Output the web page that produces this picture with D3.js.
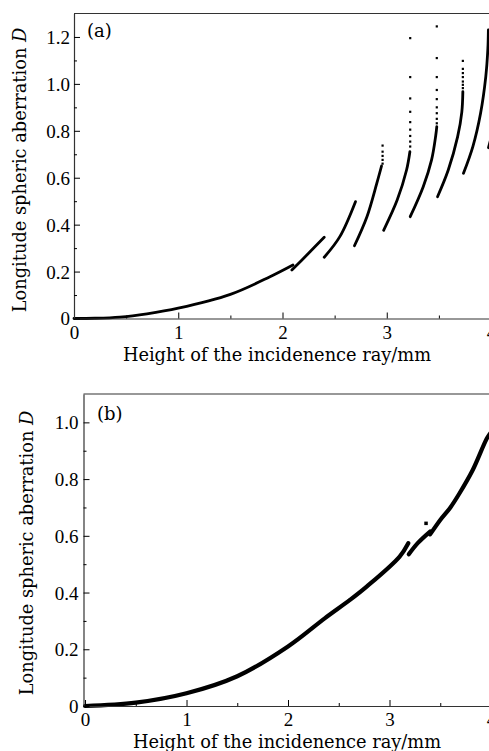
<!DOCTYPE html>
<html>
<head>
<meta charset="utf-8">
<script src="https://cdn.jsdelivr.net/npm/d3@7"></script>
<style>
body { margin: 0; background: #fff; }
svg text { font-family: "DejaVu Serif", serif; }
svg .tick text { font-family: "Liberation Serif", "Times New Roman", serif; font-size: 19px; }
</style>
</head>
<body>
<div id="main"></div>
<script>
// tick values
const xTicks = [0, 1, 2, 3, 4];
const xMinor = [0.5, 1.5, 2.5, 3.5];
const yTicksA = [0, 0.2, 0.4, 0.6, 0.8, 1.0, 1.2];
const yMinorA = [0.1, 0.3, 0.5, 0.7, 0.9, 1.1];
const yTicksB = [0, 0.2, 0.4, 0.6, 0.8, 1.0];
const yMinorB = [0.1, 0.3, 0.5, 0.7, 0.9];

// (a) curve pieces, [height mm, D]
const segA1 = [[0, 0], [0.2, 0.001], [0.44, 0.006], [0.7, 0.02], [1.0, 0.044], [1.5, 0.103], [1.88, 0.178], [2.10, 0.228]];
const segA2 = [[2.09, 0.207], [2.25, 0.278], [2.40, 0.346]];
const segA3 = [[2.40, 0.261], [2.55, 0.349], [2.70, 0.498]];
const segA4 = [[2.69, 0.31], [2.81, 0.434], [2.905, 0.577], [2.95, 0.65]];
const segA5 = [[2.97, 0.376], [3.10, 0.505], [3.19, 0.633], [3.222, 0.711]];
const segA6 = [[3.225, 0.434], [3.35, 0.562], [3.43, 0.676], [3.47, 0.78], [3.48, 0.818]];
const segA7 = [[3.487, 0.519], [3.59, 0.633], [3.68, 0.775], [3.72, 0.88], [3.73, 0.967]];
const segA8 = [[3.736, 0.619], [3.826, 0.733], [3.90, 0.875], [3.95, 1.031], [3.97, 1.15], [3.975, 1.23]];
const segA9 = [[3.976, 0.728], [3.995, 0.76]];

// (a) sparse points at the top of each branch
const dotsA4 = [[2.96, 0.66], [2.96, 0.676], [2.96, 0.693], [2.96, 0.711], [2.96, 0.737]];
const dotsA5 = [[3.225, 0.733], [3.225, 0.754], [3.225, 0.778], [3.225, 0.805], [3.225, 0.837], [3.225, 0.881], [3.225, 0.938], [3.225, 1.029], [3.225, 1.195]];
const dotsA6 = [[3.48, 0.832], [3.48, 0.851], [3.48, 0.875], [3.48, 0.90], [3.48, 0.935], [3.48, 0.974], [3.48, 1.029], [3.48, 1.11], [3.48, 1.245]];
const dotsA7 = [[3.73, 0.982], [3.73, 0.996], [3.73, 1.01], [3.73, 1.029], [3.73, 1.046], [3.73, 1.064], [3.73, 1.098]];

// (b) curve pieces
const segB1 = [[0, 0], [0.5, 0.012], [1.0, 0.045], [1.5, 0.105], [2.0, 0.21], [2.365, 0.31], [2.61, 0.374], [2.775, 0.421], [3.10, 0.527], [3.185, 0.574]];
const segB2 = [[3.19, 0.535], [3.28, 0.575], [3.40, 0.615]];
const segB3 = [[3.40, 0.605], [3.5, 0.656], [3.6, 0.70], [3.69, 0.75], [3.82, 0.832], [3.96, 0.944], [4.0, 0.965]];
const dotsB = [[3.36, 0.644]];

const xLabel = "Height of the incidenence ray/mm";
const yLabel = "Longitude spheric aberration ";

ctx = {
    width: 489,
    height: 751,
};

function drawPanel(svg, p) {
    let x = d3.scaleLinear().domain(p.xDomain).range(p.xRange);
    let y = d3.scaleLinear().domain(p.yDomain).range(p.yRange);
    let g = svg.append("g");

    // data first, axes drawn over
    let line = d3.line()
        .x(d => x(d[0]))
        .y(d => y(d[1]))
        .curve(d3.curveCatmullRom.alpha(0.5));

    g.append("g").selectAll("path")
        .data(p.segs)
        .enter().append("path")
        .attr("d", line)
        .attr("fill", "none")
        .attr("stroke", "#000")
        .attr("stroke-width", p.lineWidth)
        .attr("stroke-linecap", "round");

    g.append("g").selectAll("rect")
        .data(p.dots)
        .enter().append("rect")
        .attr("x", d => x(d[0]) - p.dotSize / 2)
        .attr("y", d => y(d[1]) - p.dotSize / 2)
        .attr("width", p.dotSize)
        .attr("height", p.dotSize)
        .attr("fill", "#000");

    // frame
    g.append("line")
        .attr("x1", p.xRange[0]).attr("x2", p.xRange[1])
        .attr("y1", p.yRange[1]).attr("y2", p.yRange[1])
        .attr("stroke", "#333").attr("stroke-width", 1.2);
    g.append("line")
        .attr("x1", p.xRange[1]).attr("x2", p.xRange[1])
        .attr("y1", p.yRange[0]).attr("y2", p.yRange[1])
        .attr("stroke", "#333").attr("stroke-width", 1.2);

    // bottom axis
    g.append("g")
        .attr("transform", "translate(0," + p.yRange[0] + ")")
        .call(d3.axisBottom(x).tickValues(xTicks).tickSize(-6).tickSizeOuter(0).tickPadding(7).tickFormat(d3.format("d")));
    g.append("g")
        .attr("transform", "translate(0," + p.yRange[0] + ")")
        .call(d3.axisBottom(x).tickValues(xMinor).tickSize(-3).tickSizeOuter(0).tickFormat(""))
        .select(".domain").remove();

    // left axis
    let yAxis = g.append("g")
        .attr("transform", "translate(" + p.xRange[0] + ",0)")
        .call(d3.axisLeft(y).tickValues(p.yTicks).tickSize(-6).tickSizeOuter(0).tickPadding(p.yPad)
            .tickFormat(d => d === 0 ? "0" : d3.format(".1f")(d)));
    g.append("g")
        .attr("transform", "translate(" + p.xRange[0] + ",0)")
        .call(d3.axisLeft(y).tickValues(p.yMinor).tickSize(-3).tickSizeOuter(0).tickFormat(""))
        .select(".domain").remove();

    g.selectAll("g").attr("font-family", null).attr("font-size", null);
    g.selectAll(".domain").attr("stroke", "#333").attr("stroke-width", 1.2);
    g.selectAll(".tick line").attr("stroke", "#000").attr("stroke-width", 1);
    g.selectAll(".tick text").attr("fill", "#000");
    yAxis.selectAll(".tick text").attr("dy", "0.34em");

    // axis titles
    g.append("text")
        .attr("x", p.xLabelPos[0]).attr("y", p.xLabelPos[1])
        .attr("text-anchor", "middle")
        .style("font-size", "17.8px")
        .text(xLabel);

    let yl = g.append("text")
        .attr("transform", "translate(" + p.yLabelPos[0] + "," + p.yLabelPos[1] + ") rotate(-90)")
        .attr("text-anchor", "middle")
        .style("font-size", "17.8px");
    yl.append("tspan").text(yLabel);
    yl.append("tspan").style("font-style", "italic").text("D");

    g.append("text")
        .attr("x", p.tagPos[0]).attr("y", p.tagPos[1])
        .style("font-size", "18px")
        .text(p.tag);
}

function createViz() {
    let svg = d3.select("#main").append("svg")
        .attr("width", ctx.width)
        .attr("height", ctx.height);

    drawPanel(svg, {
        xDomain: [0, 4], xRange: [74, 491],
        yDomain: [0, 1.3], yRange: [318.5, 13.5],
        yTicks: yTicksA, yMinor: yMinorA, yPad: 4,
        segs: [segA1, segA2, segA3, segA4, segA5, segA6, segA7, segA8, segA9],
        dots: [].concat(dotsA4, dotsA5, dotsA6, dotsA7),
        lineWidth: 2.8, dotSize: 2.2,
        xLabelPos: [277, 361], yLabelPos: [26, 170],
        tag: "(a)", tagPos: [87, 37],
    });

    drawPanel(svg, {
        xDomain: [-0.015, 4], xRange: [83.5, 491],
        yDomain: [0, 1.1], yRange: [706, 394],
        yTicks: yTicksB, yMinor: yMinorB, yPad: 5,
        segs: [segB1, segB2, segB3],
        dots: dotsB,
        lineWidth: 4.2, dotSize: 3.5,
        xLabelPos: [287, 748], yLabelPos: [33, 553],
        tag: "(b)", tagPos: [97, 420],
    });
}

createViz();
</script>
</body>
</html>
